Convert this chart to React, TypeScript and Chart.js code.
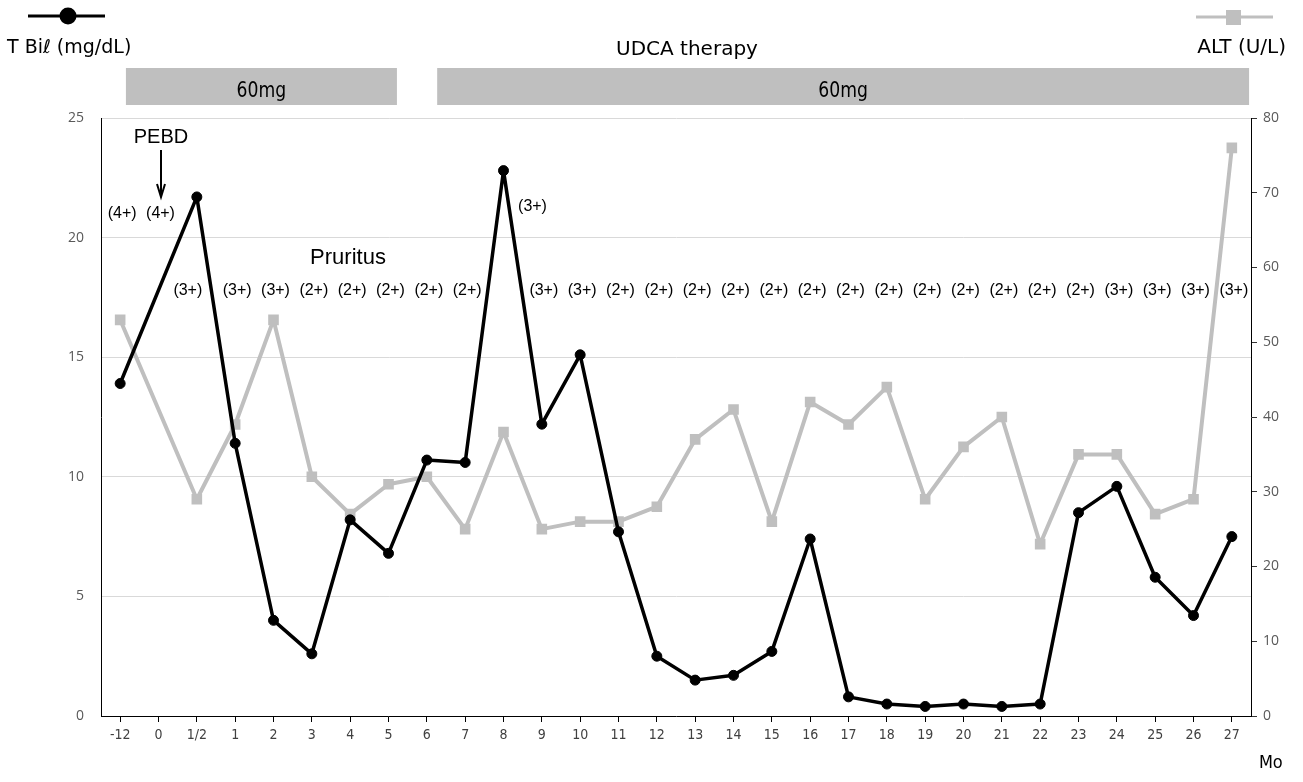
import React, { useEffect, useRef } from 'react';
import { Chart, registerables } from 'chart.js';

Chart.register(...registerables);

// ---- data ----
const months = ['-12', '0', '1/2', '1', '2', '3', '4', '5', '6', '7', '8', '9', '10', '11', '12', '13', '14', '15', '16', '17', '18', '19', '20', '21', '22', '23', '24', '25', '26', '27'];
const tBil = [13.9, null, 21.7, 11.4, 4.0, 2.6, 8.2, 6.8, 10.7, 10.6, 22.8, 12.2, 15.1, 7.7, 2.5, 1.5, 1.7, 2.7, 7.4, 0.8, 0.5, 0.4, 0.5, 0.4, 0.5, 8.5, 9.6, 5.8, 4.2, 7.5];
const alt = [53, null, 29, 39, 53, 32, 27, 31, 32, 25, 38, 25, 26, 26, 28, 37, 41, 26, 42, 39, 44, 29, 36, 40, 23, 35, 35, 27, 29, 76];
const pruritus = ['4+', '4+', '3+', '3+', '3+', '2+', '2+', '2+', '2+', '2+', '3+', '3+', '3+', '2+', '2+', '2+', '2+', '2+', '2+', '2+', '2+', '2+', '2+', '2+', '2+', '2+', '3+', '3+', '3+', '3+'];
const tBilTicks = [0, 5, 10, 15, 20, 25];
const altTicks = [0, 10, 20, 30, 40, 50, 60, 70, 80];
const dosePeriods = [
  { from: 0.15, to: 7.22, label: '60mg' },
  { from: 8.27, to: 29.45, label: '60mg' },
];

const JP = "'DejaVu Sans', sans-serif";
const ARIAL = "'Liberation Sans', Arial, sans-serif";
const NARROW = "'Liberation Sans Narrow', 'DejaVu Sans Condensed', sans-serif";

const overlay = {
  id: 'overlay',
  afterDraw(chart: any) {
    const ctx = chart.ctx as CanvasRenderingContext2D;
    const xs = chart.scales.x;
    const ys = chart.scales.y;
    ctx.save();

    // legend glyphs
    ctx.strokeStyle = '#000';
    ctx.lineWidth = 3;
    ctx.beginPath();
    ctx.moveTo(28, 16);
    ctx.lineTo(105, 16);
    ctx.stroke();
    ctx.fillStyle = '#000';
    ctx.beginPath();
    ctx.arc(68, 16, 8.5, 0, Math.PI * 2);
    ctx.fill();

    ctx.strokeStyle = '#bfbfbf';
    ctx.beginPath();
    ctx.moveTo(1196, 17);
    ctx.lineTo(1273, 17);
    ctx.stroke();
    ctx.fillStyle = '#bfbfbf';
    ctx.fillRect(1226, 10, 15, 15);

    // headers
    ctx.fillStyle = '#000';
    ctx.textBaseline = 'alphabetic';
    ctx.font = `19px ${JP}`;
    ctx.textAlign = 'left';
    ctx.fillText('T Biℓ (mg/dL)', 7, 53);
    ctx.font = `20px ${JP}`;
    ctx.textAlign = 'center';
    ctx.fillText('UDCA therapy', 687, 55);
    ctx.textAlign = 'right';
    ctx.fillText('ALT (U/L)', 1286, 53);

    // dose bars
    dosePeriods.forEach((p) => {
      const x0 = xs.getPixelForValue(p.from);
      const x1 = xs.getPixelForValue(p.to);
      ctx.fillStyle = '#bfbfbf';
      ctx.fillRect(x0, 68, x1 - x0, 37);
      ctx.fillStyle = '#000';
      ctx.save();
      ctx.translate((x0 + x1) / 2, 97);
      ctx.scale(0.82, 1);
      ctx.font = `21px ${JP}`;
      ctx.textAlign = 'center';
      ctx.fillText(p.label, 0, 0);
      ctx.restore();
    });

    // PEBD arrow
    ctx.fillStyle = '#000';
    ctx.font = `20px ${ARIAL}`;
    ctx.textAlign = 'center';
    ctx.fillText('PEBD', 161, 143);
    ctx.strokeStyle = '#000';
    ctx.lineWidth = 2;
    ctx.beginPath();
    ctx.moveTo(161, 150);
    ctx.lineTo(161, 196);
    ctx.moveTo(157, 184);
    ctx.lineTo(161, 197);
    ctx.lineTo(165, 184);
    ctx.stroke();

    // Pruritus title
    ctx.font = `22px ${ARIAL}`;
    ctx.textAlign = 'center';
    ctx.fillText('Pruritus', 348, 264);

    // grades
    ctx.font = `16px ${ARIAL}`;
    ctx.textBaseline = 'middle';
    pruritus.forEach((g, i) => {
      let v = 17.8;
      let dx = 2;
      if (i === 0 || i === 1) { v = 21.0; dx = 2; }
      if (i === 2) { dx = -9; }
      if (i === 10) { v = 21.3; dx = 29; }
      ctx.fillText(`(${g})`, xs.getPixelForValue(i) + dx, ys.getPixelForValue(v));
    });

    // Mo
    ctx.font = `18px ${NARROW}`;
    ctx.fillStyle = '#000';
    ctx.fillText('Mo', xs.getPixelForValue(29) + 39, 763);

    ctx.restore();
  },
};

export default function App() {
  const ref = useRef<HTMLCanvasElement | null>(null);
  useEffect(() => {
    if (!ref.current) return;
    const chart = new Chart(ref.current, {
      type: 'line',
      data: {
        labels: months,
        datasets: [
          {
            label: 'T Biℓ (mg/dL)',
            data: tBil,
            yAxisID: 'y',
            borderColor: '#000',
            backgroundColor: '#000',
            borderWidth: 3.5,
            borderJoinStyle: 'round',
            pointRadius: 5,
            pointBorderWidth: 1,
            pointBackgroundColor: '#000',
            pointBorderColor: '#000',
            tension: 0,
            spanGaps: true,
          },
          {
            label: 'ALT (U/L)',
            data: alt,
            yAxisID: 'y1',
            borderColor: '#bfbfbf',
            backgroundColor: '#bfbfbf',
            borderWidth: 4,
            borderJoinStyle: 'round',
            pointStyle: 'rect',
            pointRadius: 7.5,
            pointBorderWidth: 0,
            pointBackgroundColor: '#bfbfbf',
            tension: 0,
            spanGaps: true,
          },
        ],
      },
      options: {
        responsive: false,
        animation: false,
        devicePixelRatio: 1,
        layout: { padding: { top: 118, left: 0, right: 0, bottom: 0 } },
        plugins: { legend: { display: false }, tooltip: { enabled: false } },
        scales: {
          x: {
            offset: true,
            grid: { drawOnChartArea: false, drawTicks: true, tickLength: 6, color: '#000', offset: false },
            border: { color: '#000', width: 1 },
            ticks: { color: '#404040', font: { family: NARROW, size: 14 }, padding: 5, autoSkip: false, maxRotation: 0 },
            afterFit: (s: any) => { s.height = 66; },
          },
          y: {
            position: 'left',
            min: 0,
            max: 25,
            afterBuildTicks: (s: any) => { s.ticks = tBilTicks.map((v) => ({ value: v })); },
            grid: { color: '#d9d9d9', drawTicks: false, lineWidth: 1 },
            border: { color: '#000', width: 1 },
            ticks: { color: '#595959', font: { family: "'Open Sans', sans-serif", size: 14 }, padding: 17 },
            afterFit: (s: any) => { s.width = 101; },
          },
          y1: {
            position: 'right',
            min: 0,
            max: 80,
            afterBuildTicks: (s: any) => { s.ticks = altTicks.map((v) => ({ value: v })); },
            grid: { drawOnChartArea: false, drawTicks: true, tickLength: 6, color: '#333' },
            border: { color: '#000', width: 1 },
            ticks: { color: '#595959', font: { family: "'Open Sans', sans-serif", size: 14 }, padding: 6 },
            afterFit: (s: any) => { s.width = 52; },
          },
        },
      },
      plugins: [overlay],
    });
    return () => chart.destroy();
  }, []);
  return (
    <div style={{ position: 'fixed', left: 0, top: 0, width: 1303, height: 782, background: '#fff' }}>
      <canvas ref={ref} width={1303} height={782} style={{ display: 'block', width: 1303, height: 782 }} />
    </div>
  );
}
